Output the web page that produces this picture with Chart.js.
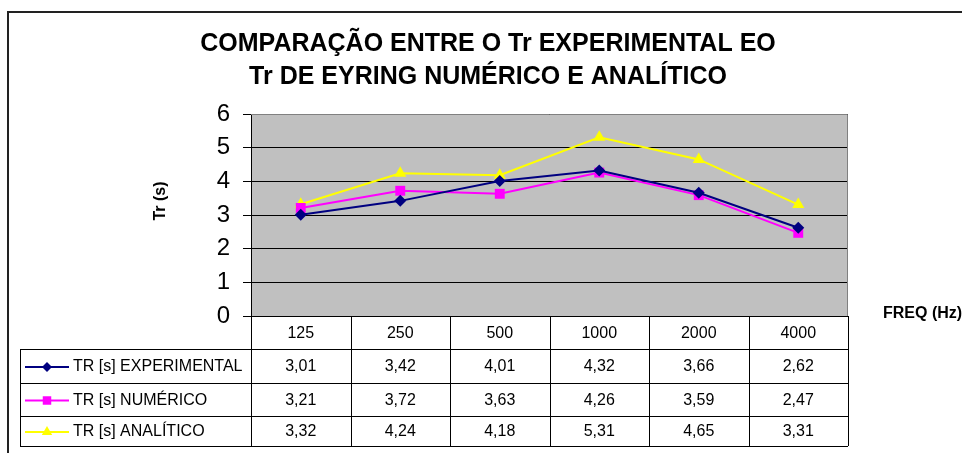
<!DOCTYPE html>
<html>
<head>
<meta charset="utf-8">
<script src="https://cdn.jsdelivr.net/npm/chart.js@4/dist/chart.umd.min.js"></script>
<style>
  html, body { margin: 0; padding: 0; background: #ffffff; }
  #wrap { width: 962px; height: 453px; position: relative; }
</style>
</head>
<body>
<div id="wrap"><canvas id="c" width="962" height="453"></canvas></div>
<script>
// ---- data ----
const categories = ['125', '250', '500', '1000', '2000', '4000'];
const seriesNames = ['TR [s] EXPERIMENTAL', 'TR [s] NUMÉRICO', 'TR [s] ANALÍTICO'];
const experimental = [3.01, 3.42, 4.01, 4.32, 3.66, 2.62];
const numerico = [3.21, 3.72, 3.63, 4.26, 3.59, 2.47];
const analitico = [3.32, 4.24, 4.18, 5.31, 4.65, 3.31];
const yTicks = [0, 1, 2, 3, 4, 5, 6];
const titleLines = ['COMPARAÇÃO ENTRE O Tr EXPERIMENTAL EO', 'Tr DE EYRING NUMÉRICO E ANALÍTICO'];
const yTitle = 'Tr (s)';
const xTitle = 'FREQ (Hz)';

const FONT = "'Liberation Sans', Arial, sans-serif";
const colors = ['#000080', '#FF00FF', '#FFFF00'];
const styles = ['rectRot', 'rect', 'triangle'];
const radii = [6, 7, 7];

function fmt(v) { return v.toFixed(2).replace('.', ','); }

function drawMarker(ctx, style, x, y, r) {
  Chart.helpers.drawPoint(ctx, { pointStyle: style, radius: r, borderWidth: 0 }, x, y);
}

const decor = {
  id: 'decor',
  beforeDraw(chart) {
    const { ctx, chartArea: a } = chart;
    ctx.save();
    ctx.fillStyle = '#ffffff';
    ctx.fillRect(0, 0, chart.width, chart.height);
    ctx.fillStyle = '#C0C0C0';
    ctx.fillRect(a.left, a.top, a.right - a.left, a.bottom - a.top);
    ctx.restore();
  },
  afterDatasetsDraw(chart) {
    const { ctx, chartArea: a } = chart;
    const xs = chart.scales.x;
    ctx.save();
    // plot border (top/right gray)
    ctx.strokeStyle = '#808080';
    ctx.lineWidth = 1;
    ctx.beginPath();
    ctx.moveTo(a.left, a.top + 0.5); ctx.lineTo(a.right - 0.5, a.top + 0.5); ctx.lineTo(a.right - 0.5, a.bottom);
    ctx.stroke();

    // outer chart border
    ctx.strokeStyle = '#222222';
    ctx.lineWidth = 2;
    ctx.beginPath();
    ctx.moveTo(8, chart.height + 2); ctx.lineTo(8, 12); ctx.lineTo(chart.width + 2, 12);
    ctx.stroke();

    // title
    ctx.fillStyle = '#000000';
    ctx.font = 'bold 25px ' + FONT;
    ctx.textAlign = 'center';
    ctx.textBaseline = 'middle';
    ctx.fillText(titleLines[0], 488, 44);
    ctx.fillText(titleLines[1], 488, 77);

    // axis titles
    ctx.font = 'bold 16px ' + FONT;
    ctx.save();
    ctx.translate(161, 201);
    ctx.rotate(-Math.PI / 2);
    ctx.fillText(yTitle, 0, 0);
    ctx.restore();
    ctx.textAlign = 'left';
    ctx.fillText(xTitle, 883, 314);

    // data table
    const rowsY = [a.bottom, 349, 383, 416, 446];
    const tableLeft = 20;
    const n = categories.length;
    const bounds = [xs.left];
    for (let i = 0; i < n - 1; i++) bounds.push((xs.getPixelForValue(i) + xs.getPixelForValue(i + 1)) / 2);
    bounds.push(xs.right);

    ctx.strokeStyle = '#000000';
    ctx.lineWidth = 1;
    ctx.beginPath();
    ctx.moveTo(a.left, rowsY[0] + 0.5); ctx.lineTo(a.right, rowsY[0] + 0.5);
    for (let r = 1; r < rowsY.length; r++) {
      ctx.moveTo(tableLeft, Math.round(rowsY[r]) + 0.5); ctx.lineTo(a.right, Math.round(rowsY[r]) + 0.5);
    }
    ctx.moveTo(tableLeft + 0.5, rowsY[1]); ctx.lineTo(tableLeft + 0.5, rowsY[4]);
    bounds.forEach(b => { const xb = Math.round(b) + 0.5; ctx.moveTo(xb, rowsY[0]); ctx.lineTo(xb, rowsY[4]); });
    ctx.stroke();

    ctx.font = '16px ' + FONT;
    ctx.fillStyle = '#000000';
    ctx.textAlign = 'center';
    ctx.textBaseline = 'middle';
    categories.forEach((c, i) => ctx.fillText(c, xs.getPixelForValue(i), (rowsY[0] + rowsY[1]) / 2 + 1));
    const allSeries = [experimental, numerico, analitico];
    allSeries.forEach((s, r) => {
      const cy = (rowsY[r + 1] + rowsY[r + 2]) / 2 + 1;
      s.forEach((v, i) => ctx.fillText(fmt(v), xs.getPixelForValue(i), cy));
      ctx.strokeStyle = colors[r];
      ctx.lineWidth = 2;
      ctx.beginPath();
      ctx.moveTo(25, cy); ctx.lineTo(69, cy);
      ctx.stroke();
      ctx.fillStyle = colors[r];
      drawMarker(ctx, styles[r], 47, cy, radii[r] - 1);
      ctx.fillStyle = '#000000';
      ctx.textAlign = 'left';
      ctx.fillText(seriesNames[r], 73, cy);
      ctx.textAlign = 'center';
    });
    ctx.restore();
  }
};

const mk = (label, data, i) => ({
  label, data,
  borderColor: colors[i], backgroundColor: colors[i],
  pointBackgroundColor: colors[i], pointBorderColor: colors[i], pointBorderWidth: 0,
  pointStyle: styles[i], pointRadius: radii[i], borderWidth: 2, tension: 0
});

new Chart(document.getElementById('c'), {
  type: 'line',
  data: {
    labels: categories,
    datasets: [mk(seriesNames[0], experimental, 0), mk(seriesNames[1], numerico, 1), mk(seriesNames[2], analitico, 2)]
  },
  plugins: [decor],
  options: {
    responsive: false,
    animation: false,
    events: [],
    layout: { padding: { top: 114, right: 114, bottom: 137, left: 0 } },
    plugins: { legend: { display: false }, title: { display: false }, tooltip: { enabled: false } },
    scales: {
      x: { display: false, offset: true },
      y: {
        min: 0, max: 6,
        afterFit(s) { s.width = 251; },
        afterBuildTicks(s) { s.ticks = yTicks.map(v => ({ value: v })); },
        ticks: { color: '#000000', font: { family: FONT, size: 24 }, padding: 13 },
        grid: { color: '#000000', lineWidth: 1, tickLength: 8, drawTicks: true },
        border: { color: '#000000', width: 1 }
      }
    }
  }
});
</script>
</body>
</html>
